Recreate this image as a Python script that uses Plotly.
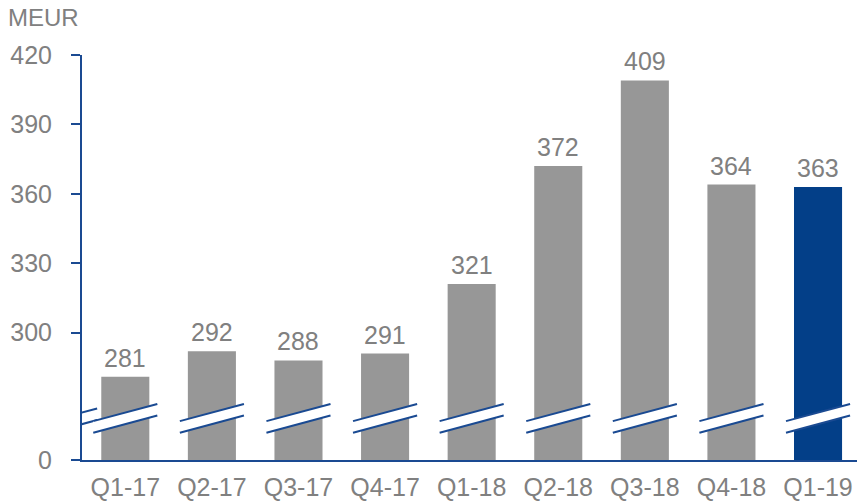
import plotly.graph_objects as go

categories = ["Q1-17", "Q2-17", "Q3-17", "Q4-17", "Q1-18", "Q2-18", "Q3-18", "Q4-18", "Q1-19"]
values = [281, 292, 288, 291, 321, 372, 409, 364, 363]
tick_values = [300, 330, 360, 390, 420]
tick_labels = ["300", "330", "360", "390", "420"]
unit_label = "MEUR"

GRAY = "#979797"
BLUE = "#033f88"
AXIS = "#1a4a92"
TEXT = "#808080"
FONT = "Liberation Sans, Arial, sans-serif"

BASE = 245          # position on the broken axis standing for 0
BREAK_Y = 263       # centre of the break band
GAP = 2.5           # half height of the break band
SLOPE = 10.0        # slope of the break lines (data units per category)

colors = [GRAY] * (len(values) - 1) + [BLUE]

fig = go.Figure()
fig.add_trace(go.Bar(
    x=list(range(len(categories))),
    y=[v - BASE for v in values],
    base=BASE,
    marker=dict(color=colors, line=dict(width=0)),
    width=0.555,
    hoverinfo="skip",
))

for i, v in enumerate(values):
    fig.add_annotation(x=i, y=v, xref="x", yref="y", text=str(v), showarrow=False,
                       yanchor="bottom", yshift=3,
                       font=dict(family=FONT, size=25, color=TEXT))


def add_break(xc, hw):
    x0, x1 = xc - hw, xc + hw
    yu0 = BREAK_Y + GAP - SLOPE * hw
    yu1 = BREAK_Y + GAP + SLOPE * hw
    yl0 = BREAK_Y - GAP - SLOPE * hw
    yl1 = BREAK_Y - GAP + SLOPE * hw
    fig.add_shape(type="path", xref="x", yref="y", layer="above",
                  path=f"M {x0},{yl0} L {x1},{yl1} L {x1},{yu1} L {x0},{yu0} Z",
                  fillcolor="white", line=dict(width=0))
    for (a, b) in [(yu0, yu1), (yl0, yl1)]:
        fig.add_shape(type="line", xref="x", yref="y", layer="above",
                      x0=x0, y0=a, x1=x1, y1=b, line=dict(color=AXIS, width=2))


add_break(-0.5, 0.175)
for i in range(len(categories)):
    add_break(i, 0.37)

fig.add_annotation(x=0, y=1, xref="paper", yref="paper", xanchor="left", yanchor="top",
                   xshift=-76, yshift=53, text=unit_label, showarrow=False,
                   font=dict(family=FONT, size=24, color=TEXT))

fig.update_layout(
    width=857, height=501,
    margin=dict(l=82, r=0, t=55, b=39),
    plot_bgcolor="white", paper_bgcolor="white",
    showlegend=False,
    font=dict(family=FONT, size=25, color=TEXT),
    bargap=0.445,
)
fig.update_xaxes(
    range=[-0.5, 8.45],
    tickmode="array", tickvals=list(range(len(categories))), ticktext=categories,
    showline=True, linecolor=AXIS, linewidth=2,
    showgrid=False, zeroline=False, ticks="",
    tickfont=dict(family=FONT, size=25, color=TEXT),
    ticklabelstandoff=4,
)
fig.update_yaxes(
    range=[BASE, 420],
    tickmode="array", tickvals=[BASE] + tick_values, ticktext=["0"] + tick_labels,
    showline=True, linecolor=AXIS, linewidth=2,
    ticks="outside", ticklen=9, tickwidth=2, tickcolor=AXIS,
    showgrid=False, zeroline=False,
    tickfont=dict(family=FONT, size=25, color=TEXT),
    ticklabelstandoff=14,
)

fig.write_html("out.html", config={"displayModeBar": False},
               post_script="document.body.style.margin='0';document.body.style.overflow='hidden';")
